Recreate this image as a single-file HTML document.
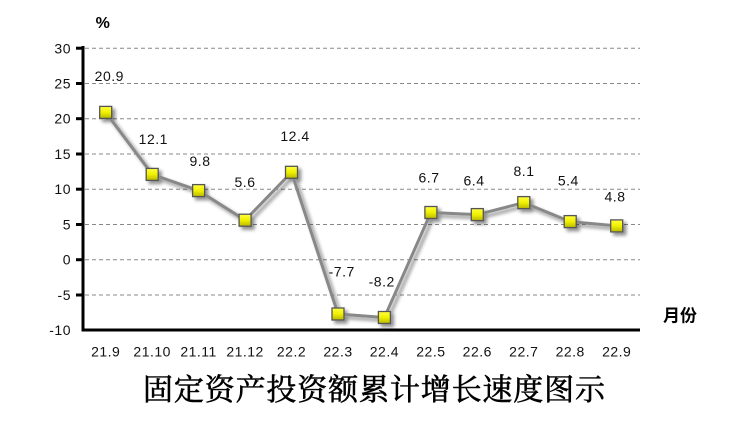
<!DOCTYPE html>
<html><head><meta charset="utf-8"><style>
html,body{margin:0;padding:0;background:#fff;}
svg{display:block;}
.t{font-family:"Liberation Sans",sans-serif;font-size:14px;fill:#111;letter-spacing:0.5px;}
</style></head><body>
<svg width="729" height="421" viewBox="0 0 729 421" xmlns="http://www.w3.org/2000/svg">
<defs>
<linearGradient id="yg" x1="0" y1="0" x2="0" y2="1">
<stop offset="0" stop-color="#ffff40"/><stop offset="0.5" stop-color="#f0f000"/><stop offset="1" stop-color="#b8b800"/>
</linearGradient>
<filter id="sh" x="-50%" y="-50%" width="200%" height="200%">
<feGaussianBlur in="SourceAlpha" stdDeviation="1.8"/>
<feOffset dx="3" dy="3" result="b"/>
<feComponentTransfer><feFuncA type="linear" slope="0.45"/></feComponentTransfer>
<feMerge><feMergeNode/><feMergeNode in="SourceGraphic"/></feMerge>
</filter>
</defs>
<g stroke="#888" stroke-width="1" stroke-dasharray="4,3">
<line x1="85" y1="48.2" x2="640" y2="48.2"/>
<line x1="85" y1="83.5" x2="640" y2="83.5"/>
<line x1="85" y1="118.7" x2="640" y2="118.7"/>
<line x1="85" y1="154" x2="640" y2="154"/>
<line x1="85" y1="189.2" x2="640" y2="189.2"/>
<line x1="85" y1="224.5" x2="640" y2="224.5"/>
<line x1="85" y1="259.7" x2="640" y2="259.7"/>
<line x1="85" y1="295" x2="640" y2="295"/>
</g>
<g stroke="#000" stroke-width="3">
<line x1="83" y1="46" x2="83" y2="331"/>
<line x1="81.5" y1="330" x2="640" y2="330"/>
<line x1="76" y1="48.2" x2="83" y2="48.2"/>
<line x1="76" y1="83.5" x2="83" y2="83.5"/>
<line x1="76" y1="118.7" x2="83" y2="118.7"/>
<line x1="76" y1="154" x2="83" y2="154"/>
<line x1="76" y1="189.2" x2="83" y2="189.2"/>
<line x1="76" y1="224.5" x2="83" y2="224.5"/>
<line x1="76" y1="259.7" x2="83" y2="259.7"/>
<line x1="76" y1="295" x2="83" y2="295"/>
</g>
<g class="t" text-anchor="end">
<text x="71" y="53.3">30</text>
<text x="71" y="88.5">25</text>
<text x="71" y="123.7">20</text>
<text x="71" y="159">15</text>
<text x="71" y="194.2">10</text>
<text x="71" y="229.5">5</text>
<text x="71" y="264.7">0</text>
<text x="71" y="300">-5</text>
<text x="71" y="335">-10</text>
</g>
<g class="t" text-anchor="middle">
<text x="105.7" y="356.5">21.9</text>
<text x="152.2" y="356.5">21.10</text>
<text x="198.6" y="356.5">21.11</text>
<text x="245.1" y="356.5">21.12</text>
<text x="291.5" y="356.5">22.2</text>
<text x="338" y="356.5">22.3</text>
<text x="384.4" y="356.5">22.4</text>
<text x="430.9" y="356.5">22.5</text>
<text x="477.3" y="356.5">22.6</text>
<text x="523.8" y="356.5">22.7</text>
<text x="570.2" y="356.5">22.8</text>
<text x="616.7" y="356.5">22.9</text>
</g>
<g filter="url(#sh)">
<polyline fill="none" stroke="#888" stroke-width="3" stroke-linejoin="round" points="105.7,112.4 152.2,174.4 198.6,190.6 245.1,220.2 291.5,172.3 338,314 384.4,317.5 430.9,212.5 477.3,214.6 523.8,202.6 570.2,221.6 616.7,225.9"/>
<g fill="url(#yg)" stroke="#555" stroke-width="1.3">
<rect x="99.7" y="106.4" width="12" height="12"/>
<rect x="146.2" y="168.4" width="12" height="12"/>
<rect x="192.6" y="184.6" width="12" height="12"/>
<rect x="239.1" y="214.2" width="12" height="12"/>
<rect x="285.5" y="166.3" width="12" height="12"/>
<rect x="332" y="308" width="12" height="12"/>
<rect x="378.4" y="311.5" width="12" height="12"/>
<rect x="424.9" y="206.5" width="12" height="12"/>
<rect x="471.3" y="208.6" width="12" height="12"/>
<rect x="517.8" y="196.6" width="12" height="12"/>
<rect x="564.2" y="215.6" width="12" height="12"/>
<rect x="610.7" y="219.9" width="12" height="12"/>
</g>
</g>
<g class="t" text-anchor="middle">
<text x="109.3" y="81">20.9</text>
<text x="153.3" y="144">12.1</text>
<text x="200" y="166">9.8</text>
<text x="245" y="187">5.6</text>
<text x="295" y="141">12.4</text>
<text x="341.7" y="276.7">-7.7</text>
<text x="381.7" y="286.7">-8.2</text>
<text x="429" y="182.7">6.7</text>
<text x="474" y="185.7">6.4</text>
<text x="524" y="176">8.1</text>
<text x="568.3" y="185.7">5.4</text>
<text x="615" y="201.7">4.8</text>
</g>
<text x="102.7" y="28" text-anchor="middle" style="font-family:'Liberation Sans',sans-serif;font-size:16px;font-weight:bold;fill:#000">%</text>
<text x="680" y="321.5" text-anchor="middle" style="font-family:'Liberation Sans','Noto Sans CJK SC',sans-serif;font-size:17px;font-weight:bold;fill:#000">月份</text>
<text x="143" y="400" text-anchor="start" textLength="462" lengthAdjust="spacing" stroke="#000" stroke-width="0.6" style="font-family:'Liberation Serif','Noto Serif CJK SC',serif;font-size:30px;font-weight:normal;fill:#000">固定资产投资额累计增长速度图示</text>
</svg>
</body></html>
